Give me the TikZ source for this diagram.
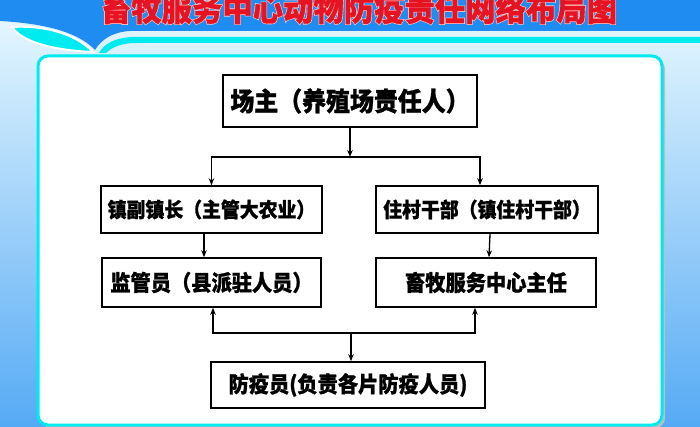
\documentclass[tikz,border=0pt]{standalone}
\usepackage{fontspec}
\newfontfamily\cjk{Noto Sans CJK SC}[FakeStretch=0.92, BoldFeatures={FakeBold=1}]
\newfontfamily\cjkhalo{Noto Sans CJK SC}[FakeStretch=0.92, BoldFeatures={FakeBold=5}]
\usetikzlibrary{arrows.meta}
\definecolor{bandblue}{RGB}{30,140,240}
\definecolor{stripecyan}{RGB}{0,235,240}
\definecolor{titlered}{RGB}{230,20,35}
\definecolor{skytop}{RGB}{235,250,255}
\definecolor{skybottom}{RGB}{85,170,245}

\begin{document}
\begin{tikzpicture}[x=1pt,y=-1pt,
	box/.style={draw=black,line width=1.5pt,fill=white,inner sep=0pt,font=\cjk\bfseries\fontsize{22}{22}\selectfont},
	smallbox/.style={box,font=\cjk\bfseries\fontsize{20.5}{20.5}\selectfont},
	link/.style={line width=1.3pt,-{Stealth[length=7pt,width=5.5pt]}},
	heading/.style={text=titlered,anchor=base,inner sep=0pt,font=\cjk\bfseries\fontsize{33}{33}\selectfont}]
	\useasboundingbox (0,0) rectangle (700,427);
	\begin{scope}
		\clip (0,0) rectangle (700,427);
		% background
		\shade[top color=skytop,bottom color=skybottom] (0,0) rectangle (700,427);
		\fill[bandblue] (0,0) -- (700,0) -- (700,31) -- (130,31) .. controls (112,32) and (101,40) .. (95,50) .. controls (82,36) and (55,24) .. (0,21) -- cycle;
		\fill[stripecyan] (700,37) -- (132,37) .. controls (114,38) and (104,44) .. (99,53) -- (106,53) .. controls (112,47) and (122,43) .. (136,43) -- (700,43) -- cycle;
		\draw[white,line width=2pt,fill=stripecyan] (12,27) .. controls (45,25) and (76,34) .. (93,52) .. controls (68,51) and (25,46) .. (12,27) -- cycle;
		% panel
		\fill[black!25,rounded corners=10pt] (41,59) rectangle (665,428);
		\draw[stripecyan,line width=3pt,fill=white,rounded corners=10pt] (38,56) rectangle (662,425);
		% title
		\node[heading,text=white!80!red,font=\cjkhalo\bfseries\fontsize{33}{33}\selectfont] (titlehalo) at (359,21) {畜牧服务中心动物防疫责任网络布局图};
		\node[heading] (title) at (359,21) {畜牧服务中心动物防疫责任网络布局图};
	\end{scope}

	\node[box,minimum width=254pt,minimum height=52pt,font=\cjk\bfseries\fontsize{26}{26}\selectfont] (owner) at (350,101) {场主（养殖场责任人）};
	\node[smallbox,minimum width=221pt,minimum height=47pt] (vicemayor) at (211.5,209.5) {镇副镇长（主管大农业）};
	\node[smallbox,minimum width=222pt,minimum height=47pt] (cadre) at (487,209.5) {住村干部（镇住村干部）};
	\node[box,minimum width=219pt,minimum height=49pt] (supervisor) at (211.5,282.5) {监管员（县派驻人员）};
	\node[box,minimum width=220pt,minimum height=49pt] (director) at (486,282.5) {畜牧服务中心主任};
	\node[box,minimum width=274pt,minimum height=46pt] (vaccinator) at (348,385) {防疫员(负责各片防疫人员)};

	\coordinate (fork) at (350,157);
	\coordinate (join) at (351,333);
	\draw[link] (owner) -- (fork);
	\draw[link] (fork) -| (vicemayor.north);
	\draw[link] (fork) -| ([xshift=-7pt]cadre.north);
	\draw[link] ([xshift=-7.5pt]vicemayor.south) -- ([xshift=-7.5pt]supervisor.north);
	\draw[link] ([xshift=3pt]cadre.south) -- ([xshift=3pt]director.north);
	\draw[link] (join) -| ([xshift=1.5pt]supervisor.south);
	\draw[link] (join) -| ([xshift=-11pt]director.south);
	\draw[link] (join) -- (vaccinator.north -| join);
\end{tikzpicture}
\end{document}
